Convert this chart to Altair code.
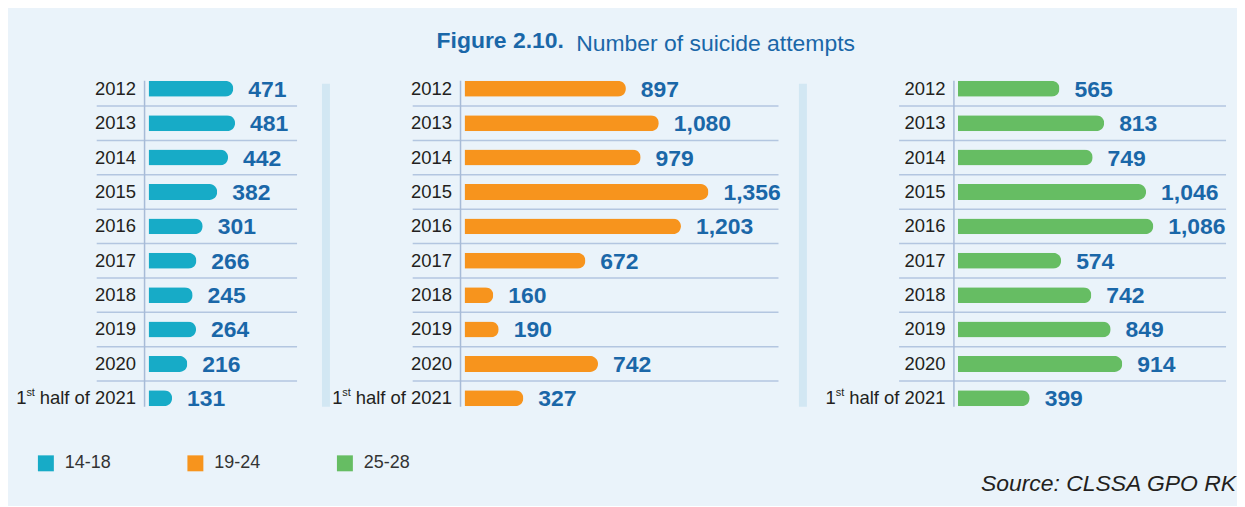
import altair as alt
import pandas as pd

years = ["2012", "2013", "2014", "2015", "2016", "2017", "2018", "2019", "2020", "1st half of 2021"]
groups = ["14-18", "19-24", "25-28"]
v_14_18 = [471, 481, 442, 382, 301, 266, 245, 264, 216, 131]
v_19_24 = [897, 1080, 979, 1356, 1203, 672, 160, 190, 742, 327]
v_25_28 = [565, 813, 749, 1046, 1086, 574, 742, 849, 914, 399]
colors = ["#17abc7", "#f7941d", "#66bd63"]

FONT = "Liberation Sans"
PX = 0.1805            # pixels per unit
PANEL_W = [297, 475, 273]
LINE_EXT = [(-48, 153), (-48, 319), (-55, 273)]
SEP_X = [182, 343.5, None]
H = 345
LAST = years[-1]


def panel(i, values, title=None):
    df = pd.DataFrame({"year": years, "value": values, "group": groups[i]})
    w = PANEL_W[i]
    dmin = -4 / PX
    xs = alt.Scale(domain=[dmin, dmin + w / PX], nice=False, zero=False)
    ys = alt.Scale(domain=years, paddingInner=0, paddingOuter=0)
    y_axis = alt.Axis(
        title=None, domain=False, ticks=False, tickSize=0, grid=False,
        labelPadding=9, labelFont=FONT, labelFontSize=18.5, labelColor="#231f20",
        labelExpr="datum.value == '1st half of 2021' ? 'half of 2021' : datum.value",
    )
    base = alt.Chart(df)
    y_enc = alt.Y("year:N", scale=ys, sort=years, axis=y_axis)

    bars = base.mark_bar(size=16, cornerRadiusEnd=8).encode(
        x=alt.X("value:Q", scale=xs, axis=None),
        y=y_enc,
        color=alt.Color(
            "group:N",
            scale=alt.Scale(domain=groups, range=colors),
            legend=alt.Legend(
                orient="none", legendX=-108, legendY=384, direction="horizontal",
                title=None, symbolType="square", symbolSize=256, symbolStrokeWidth=0,
                labelFont=FONT, labelFontSize=18, labelColor="#333333", labelOffset=10,
                columnPadding=75, columns=3, symbolOpacity=1,
            ),
        ),
    )
    labels = base.mark_text(
        align="left", baseline="middle", dx=15, dy=1, fontSize=23,
        fontWeight="bold", color="#1a67a8", font=FONT,
    ).encode(
        x=alt.X("value:Q"),
        y=alt.Y("year:N", sort=years),
        text=alt.Text("value:Q", format=","),
    )
    seps = base.transform_filter(alt.datum.year != LAST).mark_rule(
        color="#b3c6e0", strokeWidth=1.5
    ).encode(
        y=alt.Y("year:N", sort=years, bandPosition=1),
        x=alt.value(LINE_EXT[i][0]),
        x2=alt.value(LINE_EXT[i][1]),
    )
    one = base.transform_filter(alt.datum.year == LAST).mark_text(
        align="right", baseline="middle", fontSize=18.5, color="#231f20", font=FONT
    ).encode(y=alt.Y("year:N", sort=years), x=alt.value(-118.5), text=alt.value("1"))
    st = base.transform_filter(alt.datum.year == LAST).mark_text(
        align="right", baseline="middle", fontSize=11, dy=-5, color="#231f20", font=FONT
    ).encode(y=alt.Y("year:N", sort=years), x=alt.value(-110), text=alt.value("st"))
    axis_line = alt.Chart(pd.DataFrame({"k": [0]})).mark_rule(
        color="#a7bbd7", strokeWidth=1.5
    ).encode(x=alt.value(0), y=alt.value(9.25), y2=alt.value(336.25))
    layers = [seps, bars, labels, one, st, axis_line]
    if SEP_X[i] is not None:
        sep = alt.Chart(pd.DataFrame({"k": [0]})).mark_rule(
            color="#d2e7f3", strokeWidth=8
        ).encode(x=alt.value(SEP_X[i]), y=alt.value(12.25), y2=alt.value(336.25))
        layers.insert(0, sep)
    kw = {}
    if title is not None:
        kw["title"] = title
    return alt.layer(*layers, **kw).properties(width=w, height=H)


source_title = alt.TitleParams(
    "Source: CLSSA GPO RK", orient="bottom", anchor="end", frame="group",
    fontStyle="italic", fontWeight="normal", fontSize=23, color="#231f20",
    font=FONT, offset=58, dx=10,
)

p1 = panel(0, v_14_18)
p2 = panel(1, v_19_24)
p3 = panel(2, v_25_28, title=source_title)

inner = alt.HConcatChart(
    hconcat=[p1, p2, p3], spacing=20, bounds="flush",
    title=alt.TitleParams(
        "Number of suicide attempts", anchor="start", frame="group", fontSize=23,
        fontWeight="normal", color="#1a67a8", font=FONT, dx=433, offset=16,
    ),
)

chart = alt.VConcatChart(
    vconcat=[inner],
    title=alt.TitleParams(
        "Figure 2.10.", anchor="start", frame="group", fontSize=23,
        fontWeight="bold", color="#1a67a8", font=FONT, dx=293, offset=-20,
    ),
    padding={"left": 8, "top": 21, "right": 1, "bottom": 9},
).configure(background="#eaf3fa").configure_view(strokeWidth=0)

chart.save("out.html", embed_options={"renderer": "svg", "actions": False})
